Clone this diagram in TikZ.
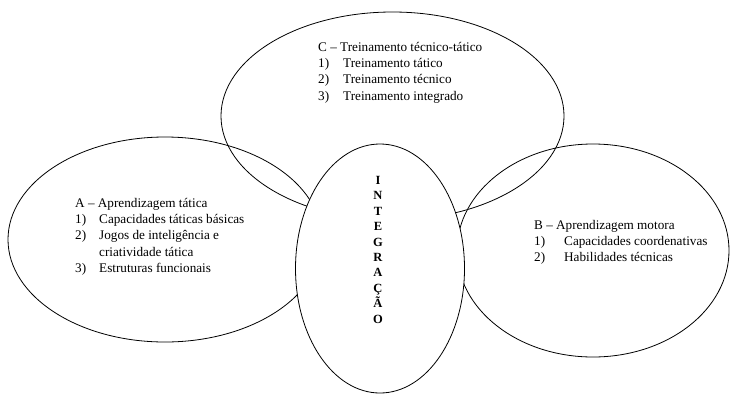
\documentclass[tikz,border=0pt]{standalone}
\usepackage{fontspec}
\setmainfont{Liberation Serif}
\usetikzlibrary{shapes.geometric}
\tikzset{
  ell/.style={draw, ellipse, line width=0.8pt, inner sep=0pt},
  listtext/.style={anchor=base west, inner sep=0pt, font=\fontsize{13.2}{16.2}\selectfont},
  vert/.style={anchor=base, inner sep=0pt, font=\fontsize{12.5}{15.4}\selectfont\bfseries}
}
\begin{document}
\begin{tikzpicture}[x=1pt,y=-1pt]
\useasboundingbox (0,0) rectangle (730,394);
\node[ell, minimum width=314pt, minimum height=205pt] (A) at (165,239.5) {};
\node[ell, minimum width=272pt, minimum height=213pt] (B) at (593,250.5) {};
\node[ell, minimum width=343pt, minimum height=208pt] (C) at (392.5,116) {};
\node[ell, fill=white, minimum width=169pt, minimum height=249pt] (I) at (380,268.5) {};

\node[listtext] (Atext) at (75,207.5) {\begin{tabular}[t]{@{}p{24pt}@{}l@{}}
\multicolumn{2}{@{}l@{}}{A -- Aprendizagem tática}\\
1) & Capacidades táticas básicas\\
2) & Jogos de inteligência e\\
   & criatividade tática\\
3) & Estruturas funcionais
\end{tabular}};

\node[listtext] (Ctext) at (318,51.5) {\begin{tabular}[t]{@{}p{25pt}@{}l@{}}
\multicolumn{2}{@{}l@{}}{C -- Treinamento técnico-tático}\\
1) & Treinamento tático\\
2) & Treinamento técnico\\
3) & Treinamento integrado
\end{tabular}};

\node[listtext] (Btext) at (534,229.5) {\begin{tabular}[t]{@{}p{30pt}@{}l@{}}
\multicolumn{2}{@{}l@{}}{B -- Aprendizagem motora}\\
1) & Capacidades coordenativas\\
2) & Habilidades técnicas
\end{tabular}};

\node[vert] (Itext) at (378,184.5) {\begin{tabular}[t]{@{}c@{}}
I\\N\\T\\E\\G\\R\\A\\Ç\\Ã\\O
\end{tabular}};
\end{tikzpicture}
\end{document}
